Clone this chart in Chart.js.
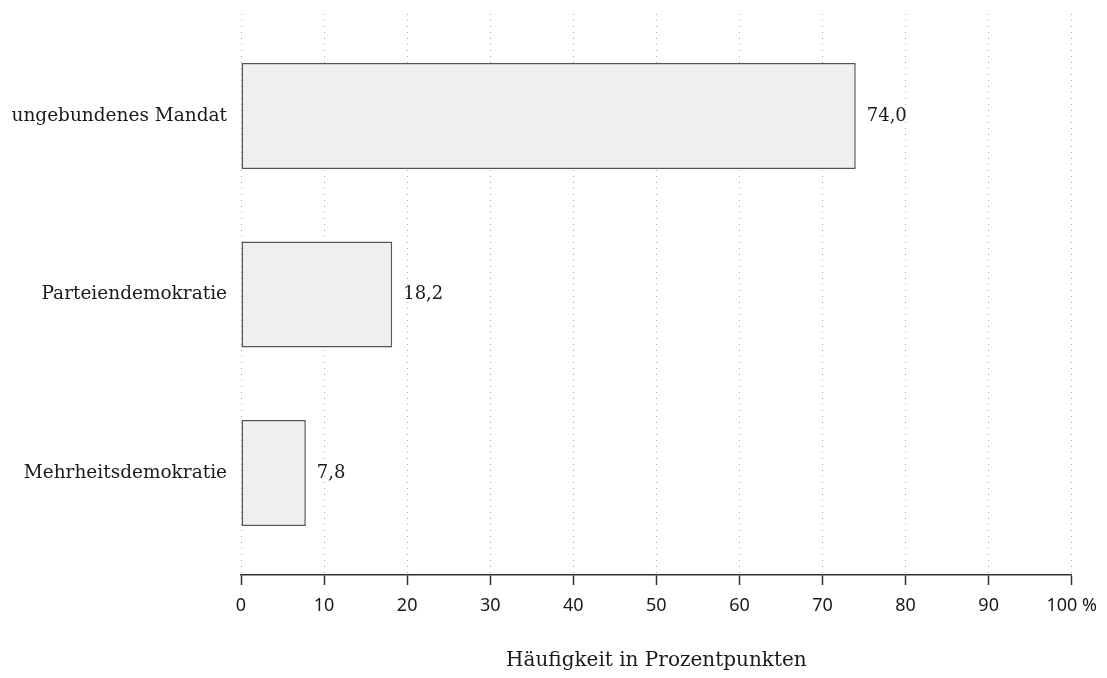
<!DOCTYPE html>
<html>
<head>
<meta charset="utf-8">
<script src="https://cdn.jsdelivr.net/npm/chart.js@4"></script>
<style>
    html, body { margin: 0; padding: 0; background: #fff; }
    #chart { display: block; }
</style>
</head>
<body>
<canvas id="chart" width="1107" height="678"></canvas>
<script>
// Chart data
const categories = ['ungebundenes Mandat', 'Parteiendemokratie', 'Mehrheitsdemokratie'];
const shares = [74.0, 18.2, 7.8];
const xTicks = [0, 10, 20, 30, 40, 50, 60, 70, 80, 90, 100];

const serifFont = "'DejaVu Serif', serif";
const sansFont = "'Noto Sans', sans-serif";

/**
 * Draw the value next to each bar, German decimal comma
 */
const valueLabels = {
    id: 'valueLabels',
    afterDatasetsDraw(chart) {
        const ctx = chart.ctx;
        const meta = chart.getDatasetMeta(0);
        ctx.save();
        ctx.font = '18px ' + serifFont;
        ctx.fillStyle = '#1a1a1a';
        ctx.textAlign = 'left';
        ctx.textBaseline = 'middle';
        meta.data.forEach((bar, i) => {
            const text = shares[i].toFixed(1).replace('.', ',');
            ctx.fillText(text, bar.x + 11, bar.y);
        });
        ctx.restore();
    }
};

const ctx = document.getElementById('chart').getContext('2d');

new Chart(ctx, {
    type: 'bar',
    data: {
        datasets: [{
            data: categories.map((c, i) => ({ x: shares[i], y: i })),
            backgroundColor: '#efefef',
            borderColor: '#555555',
            borderWidth: 1.5,
            borderSkipped: false,
            barPercentage: 0.594,
            categoryPercentage: 1
        }]
    },
    options: {
        indexAxis: 'y',
        responsive: false,
        animation: false,
        layout: {
            padding: { top: 14, right: 35, left: 0, bottom: 0 }
        },
        plugins: {
            legend: { display: false },
            tooltip: { enabled: false }
        },
        scales: {
            x: {
                type: 'linear',
                min: 0,
                max: 100,
                afterBuildTicks: function(scale) {
                    scale.ticks = xTicks.map(v => ({ value: v }));
                },
                afterFit: function(scale) {
                    scale.height = 103;
                },
                ticks: {
                    autoSkip: false,
                    maxRotation: 0,
                    padding: 10,
                    color: '#1a1a1a',
                    font: { family: sansFont, size: 18 },
                    callback: function(value) {
                        return value === 100 ? '100 %' : String(value);
                    }
                },
                grid: {
                    color: '#aaaaaa',
                    lineWidth: 1,
                    drawTicks: true,
                    tickLength: 10,
                    tickColor: '#333333',
                    tickWidth: 1.5,
                    tickBorderDash: []
                },
                border: {
                    display: true,
                    color: '#333333',
                    width: 1.5,
                    dash: [1, 5]
                },
                title: {
                    display: true,
                    text: 'Häufigkeit in Prozentpunkten',
                    color: '#1a1a1a',
                    font: { family: serifFont, size: 20 },
                    padding: { top: 0, bottom: 5 }
                }
            },
            y: {
                type: 'linear',
                offset: false,
                reverse: true,
                min: -0.571,
                max: 2.571,
                afterBuildTicks: function(scale) {
                    scale.ticks = categories.map((c, i) => ({ value: i }));
                },
                afterFit: function(scale) {
                    scale.width = 241;
                    // labels sit well inside the area, no edge padding needed
                    scale.paddingTop = 0;
                    scale.paddingBottom = 0;
                },
                ticks: {
                    padding: 14,
                    color: '#1a1a1a',
                    font: { family: serifFont, size: 18.5 },
                    callback: function(value) {
                        return categories[value] || '';
                    }
                },
                grid: { display: false, drawTicks: false, offset: false },
                border: { display: false }
            }
        }
    },
    plugins: [valueLabels]
});
</script>
</body>
</html>
